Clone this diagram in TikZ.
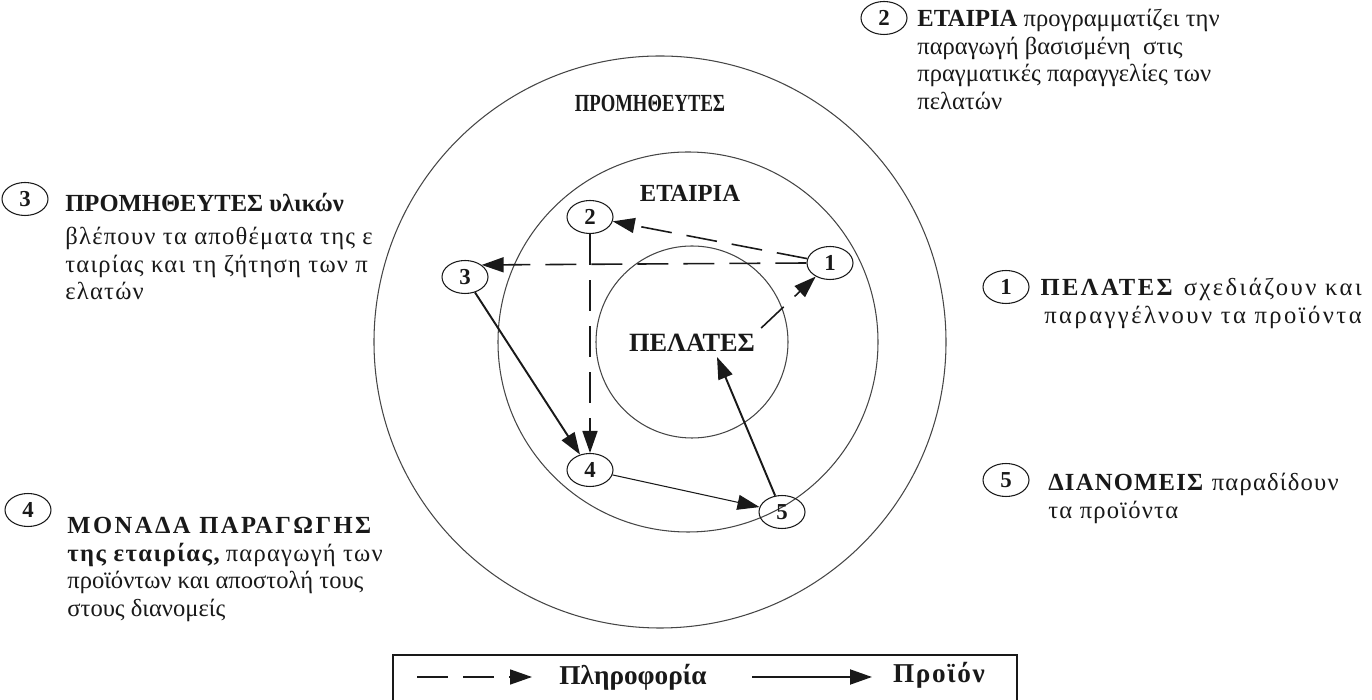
\documentclass[tikz,border=0pt]{standalone}
\usepackage{fontspec}
\setmainfont{Liberation Serif}
\usepackage{tikz}
\usetikzlibrary{arrows.meta,calc,positioning,shapes.geometric}
\definecolor{ring}{RGB}{70,70,70}
\definecolor{ink}{RGB}{25,25,25}
\newcommand{\spaced}[1]{\addfontfeature{LetterSpace=#1}}

\begin{document}
\begin{tikzpicture}[ink,
  num/.style={ellipse,draw,line width=0.6pt,inner sep=0pt,minimum width=0.92cm,minimum height=0.66cm,font=\fontsize{13}{13}\selectfont\bfseries},
  head/.style={font=\fontsize{14}{15}\selectfont\bfseries},
  info/.style={line width=0.9pt,dash pattern=on 0.62cm off 0.3cm,-{Triangle[length=0.44cm,width=0.3cm]}},
  prod/.style={line width=1.1pt,-{Triangle[length=0.44cm,width=0.3cm]}},
  note/.style={inner sep=0pt,font=\fontsize{14}{15.7}\selectfont},
  key/.style={font=\fontsize{15.5}{16}\selectfont\bfseries}]
  \useasboundingbox (0,0) rectangle (27.44,14);
  \draw[ring,line width=0.6pt] (13.2,7.16) circle (5.72) (13.76,7.16) circle (3.8) (13.84,7.16) circle (1.92);
  \node[head] (prom) at (13.0,11.94) {\addfontfeature{FakeStretch=0.76}ΠΡΟΜΗΘΕΥΤΕΣ}; \node[head] (etair) at (13.8,10.14) {ΕΤΑΙΡΙΑ};
  \node[head,font=\fontsize{15}{16}\selectfont\bfseries] (pel) at (13.84,7.14) {ΠΕΛΑΤΕΣ};
  \node[num] (n1) at (16.6,8.74) {1}; \node[num] (n2) at (11.8,9.66) {2}; \node[num] (n3) at (9.3,8.46) {3};
  \node[num] (n4) at (11.8,4.6) {4}; \node[num] (n5) at (15.64,3.76) {5};
  \coordinate (pelin) at (14.34,6.86);
  \draw[info] (n1) -- (n2); \draw[info] (n1.west) -- (n3.north east); \draw[info] (n2) -- (n4);
  \draw[info] (pel.north east) -- (n1);
  \draw[prod] (n3) -- (n4); \draw[prod,line width=0.6pt] (n4) -- (n5); \draw[prod] (n5) -- (pelin);
  % notes round the rings
  \node[num] (k2) at (17.68,13.64) {2};
  \node[note,anchor=north west,align=left] (t2) at (18.34,13.82) {\textbf{ΕΤΑΙΡΙΑ} προγραμματίζει την\\ παραγωγή βασισμένη \ στις\\ πραγματικές παραγγελίες των\\ πελατών};
  \node[num] (k3) at (0.5,10.02) {3};
  \node[note,anchor=north west,align=left] (t3) at (1.3,10.14) {\textbf{ΠΡΟΜΗΘΕΥΤΕΣ υλικών}\\[3pt] {\spaced{5}βλέπουν τα αποθέματα της ε}\\ {\spaced{5}ταιρίας και τη ζήτηση των π}\\ {\spaced{5}ελατών}};
  \node[num] (k1) at (20.12,8.26) {1};
  \node[note,anchor=north east,align=right] (t1) at (27.24,8.44) {\spaced{10}\textbf{ΠΕΛΑΤΕΣ} σχεδιάζουν και\\ \spaced{10}παραγγέλνουν τα προϊόντα};
  \node[num] (k5) at (20.12,4.4) {5};
  \node[note,anchor=north west,align=left] (t5) at (20.96,4.54) {\spaced{5}\textbf{ΔΙΑΝΟΜΕΙΣ} παραδίδουν\\ \spaced{5}τα προϊόντα};
  \node[num] (k4) at (0.56,3.8) {4};
  \node[note,anchor=north west,align=left] (t4) at (1.34,3.66) {{\bfseries\spaced{10}ΜΟΝΑΔΑ ΠΑΡΑΓΩΓΗΣ}\\ {\bfseries\spaced{6}της εταιρίας,} {\spaced{5}παραγωγή των}\\ προϊόντων και αποστολή τους\\ στους διανομείς};
  % legend
  \draw[line width=0.6pt] (7.86,0) |- (20.34,0.9) -- (20.34,0);
  \coordinate (li0) at (8.34,0.46); \coordinate (li1) at (10.64,0.46); \draw[info] (li0) -- (li1);
  \node[key] (linf) at (12.66,0.46) {Πληροφορία};
  \coordinate (lp0) at (15.04,0.46); \coordinate (lp1) at (17.44,0.46); \draw[prod] (lp0) -- (lp1);
  \node[key] (lpro) at (18.78,0.5) {\spaced{6}Προϊόν};
\end{tikzpicture}
\end{document}
